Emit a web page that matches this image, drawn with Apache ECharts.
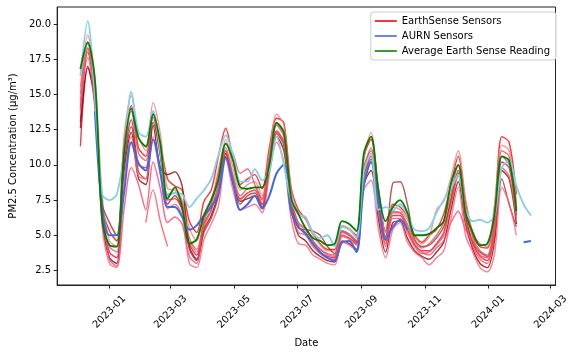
<!DOCTYPE html>
<html>
<head>
<meta charset="utf-8">
<script src="https://cdn.jsdelivr.net/npm/echarts@6/dist/echarts.min.js"></script>
<style>html,body{margin:0;padding:0;background:#fff}#c{width:571px;height:353px}</style>
</head>
<body>
<div id="c"></div>
<script>
// weekly sample dates
const DATES = ['2022-12-04','2022-12-11','2022-12-18','2022-12-25','2023-01-01','2023-01-08','2023-01-15','2023-01-22','2023-01-29','2023-02-05',
'2023-02-12','2023-02-19','2023-02-26','2023-03-05','2023-03-12','2023-03-19','2023-03-26','2023-04-02','2023-04-09','2023-04-16',
'2023-04-23','2023-04-30','2023-05-07','2023-05-14','2023-05-21','2023-05-28','2023-06-04','2023-06-11','2023-06-18','2023-06-25',
'2023-07-02','2023-07-09','2023-07-16','2023-07-23','2023-07-30','2023-08-06','2023-08-13','2023-08-20','2023-08-27','2023-09-03',
'2023-09-10','2023-09-17','2023-09-24','2023-10-01','2023-10-08','2023-10-15','2023-10-22','2023-10-29','2023-11-05','2023-11-12',
'2023-11-19','2023-11-26','2023-12-03','2023-12-10','2023-12-17','2023-12-24','2023-12-31','2024-01-07','2024-01-14','2024-01-21',
'2024-01-28','2024-02-04','2024-02-11'];

const X_TICK_LABELS = ['2023-01','2023-03','2023-05','2023-07','2023-09','2023-11','2024-01','2024-03'];
const Y_TICKS = [2.5, 5.0, 7.5, 10.0, 12.5, 15.0, 17.5, 20.0];

// EarthSense sensors
const ES_RED = [13.0,18.3,15.3,7.0,5.3,4.6,11.5,14.2,11.2,10.6,
13.8,11.5,9.0,8.5,8.2,6.0,5.2,7.4,8.2,10.6,
12.6,10.4,8.6,9.0,9.3,8.3,11.2,13.3,13.0,8.4,
6.8,6.2,5.2,4.4,4.0,4.0,5.6,5.4,5.0,10.5,
11.8,8.4,5.3,7.2,7.0,6.3,5.0,4.5,5.0,5.4,
6.5,8.6,10.6,7.4,5.0,4.2,4.1,6.9,12.0,11.6,
7.9,null,null];
const ES_LIGHTCORAL = [15.5,19.2,16.2,7.8,4.6,4.2,12.0,14.9,12.0,11.0,
14.4,12.2,8.3,8.2,7.5,5.5,4.6,6.5,7.6,9.2,
11.8,9.8,8.2,8.6,8.8,7.8,10.8,13.6,12.8,8.2,
6.6,6.1,5.0,4.3,3.9,3.9,5.7,5.5,4.9,10.4,
12.3,8.2,5.2,7.0,6.8,6.1,4.9,4.4,4.9,6.8,
7.4,9.1,11.0,7.6,5.2,4.4,4.2,7.2,11.4,11.0,
7.4,null,null];
const ES_CRIMSON = [11.3,17.0,14.8,6.5,3.8,3.4,10.2,13.2,10.0,9.8,
13.4,10.6,7.5,7.6,6.8,4.4,3.6,5.8,6.8,8.6,
11.0,9.0,7.6,8.0,8.2,7.2,10.0,12.4,11.6,7.4,
5.6,5.2,4.4,3.8,3.5,3.4,5.0,4.8,4.4,9.4,
10.6,7.0,4.4,6.4,6.4,5.4,4.3,3.9,3.9,4.4,
5.2,7.6,9.6,6.4,4.4,3.5,3.2,5.6,10.2,9.8,
6.4,null,null];
const ES_DARKRED = [12.6,16.9,14.3,6.0,3.4,3.0,9.5,12.3,9.0,8.6,
12.8,9.8,9.3,9.5,8.5,4.2,3.3,5.4,6.4,8.0,
10.8,8.7,7.4,7.6,7.8,6.9,9.6,12.0,11.0,6.9,
5.0,4.6,3.9,3.5,3.2,3.1,4.6,4.4,4.0,8.6,
9.6,6.2,3.8,5.9,6.0,4.8,3.9,3.5,3.3,3.8,
4.5,6.8,8.8,5.8,4.0,3.0,2.7,4.6,9.6,9.0,
5.8,null,null];
const ES_BROWN = [14.0,18.0,15.0,7.2,5.9,5.0,10.0,12.7,9.5,9.0,
13.0,10.8,7.2,7.8,6.9,4.0,3.2,5.2,6.2,7.8,
10.6,8.6,7.2,7.8,8.0,7.0,9.8,12.2,11.4,7.3,
5.5,5.4,5.3,5.0,4.2,3.7,5.3,5.0,4.5,9.2,
10.4,7.2,4.9,8.7,8.8,7.2,4.7,4.2,4.3,4.8,
5.6,7.4,9.4,6.2,4.5,3.8,3.5,5.0,9.0,7.2,
5.6,null,null];
const ES_PINK = [14.5,17.6,14.0,6.8,3.3,2.8,6.8,9.8,8.6,6.8,
10.2,8.3,5.9,6.3,5.8,3.5,3.0,6.2,7.2,9.6,
11.5,10.8,9.4,9.7,8.6,7.6,10.5,12.9,12.2,7.8,
5.9,5.5,4.6,4.0,3.6,3.5,5.2,5.0,4.6,9.8,
11.0,7.6,4.8,6.6,6.6,5.6,4.4,3.8,3.6,4.1,
4.6,5.9,6.7,5.4,4.6,3.6,3.4,5.8,10.6,10.0,
6.8,null,null];
const ES_INDIANRED = [15.0,18.6,15.5,6.6,4.2,3.8,11.0,13.8,10.8,10.3,
13.6,11.2,7.9,8.0,7.3,4.8,4.0,6.0,7.2,9.0,
11.2,9.3,7.8,8.3,8.4,7.5,10.2,12.8,12.0,7.6,
5.8,5.4,4.6,4.0,3.7,3.6,5.3,5.1,4.6,9.6,
11.2,7.4,4.6,6.7,6.6,5.8,4.6,4.1,4.4,5.0,
5.9,8.0,10.0,6.8,4.8,3.9,3.6,6.2,11.0,10.6,
7.0,null,null];
const ES_ROSE = [13.8,18.2,15.0,5.6,3.0,2.7,8.8,12.0,9.2,9.0,
12.0,9.3,6.9,7.2,6.4,3.0,2.7,4.7,5.8,7.1,
10.4,8.2,6.8,7.0,7.2,6.6,9.3,11.6,10.2,6.2,
4.4,4.3,3.6,3.3,3.0,2.9,4.5,4.3,3.9,8.2,
8.9,5.5,3.4,5.4,5.9,4.5,3.8,3.4,2.9,3.4,
3.9,6.2,8.4,5.0,3.8,2.7,2.4,3.7,8.4,7.3,
5.0,null,null];
const ES_TOMATO = [null,null,null,null,null,null,null,null,null,5.9,
8.2,6.0,4.2,null,null,4.6,3.8,5.6,6.8,8.5,
11.0,9.0,7.5,8.0,8.2,7.2,10.0,12.3,11.5,7.0,
5.2,5.0,4.2,3.7,3.4,3.3,4.9,4.7,4.3,9.0,
10.2,6.8,4.2,6.2,6.2,5.2,4.2,3.7,3.8,4.3,
5.0,7.2,9.2,6.0,4.2,3.3,3.0,5.2,9.8,9.2,
6.2,null,null];

// AURN sensors
const AURN_1 = [null,null,13.8,6.8,5.0,5.0,8.0,11.6,10.1,9.6,
11.8,9.5,7.0,7.0,6.3,5.4,5.7,6.4,7.0,8.0,
10.5,8.8,6.8,7.2,7.8,6.9,7.8,9.4,10.0,6.7,
5.6,5.1,4.4,3.8,3.4,3.2,4.5,4.6,3.8,8.5,
10.2,7.4,4.7,5.6,6.1,5.4,null,null,null,null,
null,null,null,null,null,null,null,null,null,null,
null,4.5,4.6];
const AURN_2 = [16.3,20.2,14.8,7.9,7.5,7.9,10.8,15.2,12.3,12.0,
13.8,11.0,7.8,8.0,7.9,7.0,7.6,8.2,9.0,10.7,
12.1,10.7,8.8,8.8,9.7,8.9,9.6,12.0,10.0,7.5,
6.5,6.3,5.2,4.8,5.0,4.2,5.6,5.4,4.8,9.5,
10.8,6.8,7.0,6.8,7.2,6.4,5.4,5.3,5.5,6.6,
7.5,8.3,9.3,6.8,6.0,6.1,5.9,6.4,9.8,10.3,
8.5,7.2,6.4];

// Average EarthSense reading
const AVG = [16.8,18.7,16.0,6.1,4.3,4.2,10.8,14.0,11.9,11.3,
13.6,11.5,7.6,8.4,7.0,4.4,4.7,6.4,7.5,9.0,
11.5,10.3,8.4,8.3,8.4,8.4,10.0,13.0,12.3,7.6,
6.5,5.5,4.8,4.6,4.3,4.4,6.0,5.8,5.3,10.8,
12.0,8.2,6.0,7.0,7.5,6.6,5.0,5.0,5.1,5.5,
6.0,8.7,10.0,6.6,5.2,4.3,4.4,6.5,10.6,10.3,
6.7,null,null];

const DAY = 86400000;
function ts(s){ const p = s.split('-').map(Number); return Date.UTC(p[0], p[1]-1, p[2] || 1); }
function pairs(vals){ return DATES.map((d,i) => [ts(d), vals[i]]); }
const X_TICKS = X_TICK_LABELS.map(ts);
const X_MIN = ts('2023-01-01') - 50.4*DAY;
const X_MAX = ts('2023-01-01') + 429.7*DAY;

const FONT = 'DejaVu Sans';
const SMOOTH = 0.3;
const sensors = [
  [ES_RED, '#ff0000'], [ES_LIGHTCORAL, '#f08080'], [ES_CRIMSON, '#dc143c'],
  [ES_DARKRED, '#8b0000'], [ES_BROWN, '#a52a2a'], [ES_PINK, '#ff3d6e'],
  [ES_INDIANRED, '#cd5c5c'], [ES_ROSE, '#ff5c7a'], [ES_TOMATO, '#ff4f4f']
];
const series = [];
sensors.forEach(([v,c]) => series.push({
  name:'EarthSense Sensors', type:'line', data:pairs(v), showSymbol:false, connectNulls:false, smooth:SMOOTH,
  lineStyle:{color:c, width:1.4, opacity:0.8}, itemStyle:{color:c}, z:2, silent:true
}));
series.push({name:'AURN Sensors', type:'line', data:pairs(AURN_1), showSymbol:false, smooth:SMOOTH,
  lineStyle:{color:'#4169e1', width:2}, itemStyle:{color:'#4169e1'}, z:3, silent:true});
series.push({name:'AURN Sensors', type:'line', data:pairs(AURN_2), showSymbol:false, smooth:SMOOTH,
  lineStyle:{color:'#87ceeb', width:1.8}, itemStyle:{color:'#87ceeb'}, z:3, silent:true});
series.push({name:'Average Earth Sense Reading', type:'line', data:pairs(AVG), showSymbol:false, smooth:SMOOTH,
  lineStyle:{color:'#008000', width:1.8}, itemStyle:{color:'#008000'}, z:4, silent:true});

const chart = echarts.init(document.getElementById('c'), null, {renderer:'canvas'});
chart.setOption({
  animation:false, backgroundColor:'#fff',
  textStyle:{fontFamily:FONT},
  grid:{left:52, right:10, top:7, bottom:59, show:true, borderColor:'#222', borderWidth:1, backgroundColor:'transparent'},
  legend:{
    orient:'vertical', right:15, top:12, icon:'rect', itemWidth:22, itemHeight:1.6, itemGap:3,
    backgroundColor:'rgba(255,255,255,0.85)', borderColor:'#cccccc', borderWidth:1, borderRadius:3,
    padding:[3,6,3,4],
    textStyle:{fontSize:10, lineHeight:12, color:'#000', fontFamily:FONT},
    data:[
      {name:'EarthSense Sensors', itemStyle:{color:'#ff0000'}},
      {name:'AURN Sensors', itemStyle:{color:'#4169e1'}},
      {name:'Average Earth Sense Reading', itemStyle:{color:'#008000'}}
    ]
  },
  xAxis:{
    type:'value', min:X_MIN, max:X_MAX,
    axisLine:{show:true, lineStyle:{color:'#222', width:1}},
    axisTick:{show:true, length:3.5, customValues:X_TICKS, lineStyle:{color:'#222'}},
    axisLabel:{customValues:X_TICKS, rotate:45, align:'center', verticalAlign:'middle', margin:27,
      fontSize:10, color:'#000', fontFamily:FONT,
      formatter:function(v){ const i = X_TICKS.indexOf(Number(v)); return i >= 0 ? X_TICK_LABELS[i] : ''; }},
    splitLine:{show:false},
    name:'Date', nameLocation:'middle', nameGap:53,
    nameTextStyle:{fontSize:10, color:'#000', fontFamily:FONT}
  },
  yAxis:{
    type:'value', min:1.47, max:21.2,
    axisLine:{show:true, lineStyle:{color:'#222', width:1}},
    axisTick:{show:true, length:3.5, customValues:Y_TICKS, lineStyle:{color:'#222'}},
    axisLabel:{customValues:Y_TICKS, fontSize:10, color:'#000', margin:6, fontFamily:FONT,
      formatter:function(v){ return Number(v).toFixed(1); }},
    splitLine:{show:false},
    name:'PM2.5 Concentration (μg/m³)', nameLocation:'middle', nameGap:35,
    nameTextStyle:{fontSize:10, color:'#000', fontFamily:FONT}
  },
  series:series
});
</script>
</body>
</html>
